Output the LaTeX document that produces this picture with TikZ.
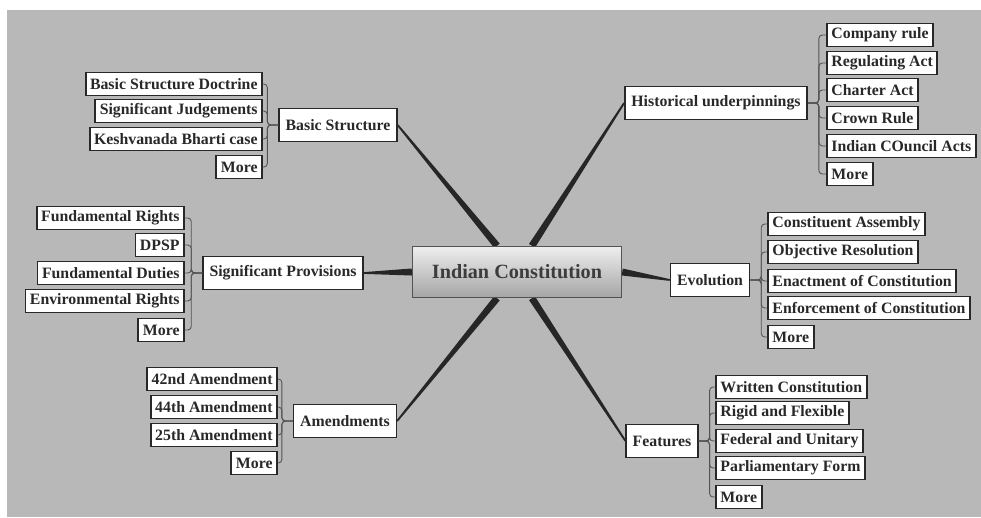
\documentclass[tikz,border=0pt]{standalone}
\usepackage{fontspec}
\setmainfont{Liberation Serif}
\usepackage{xcolor}
\usepackage{tikz}
\usetikzlibrary{positioning, calc}
\definecolor{MapGray}{RGB}{184,184,184}
\definecolor{HubTop}{RGB}{238,238,238}
\definecolor{HubBottom}{RGB}{165,165,165}
\definecolor{InkGray}{RGB}{40,40,40}
\pgfdeclarelayer{paper}
\pgfdeclarelayer{spokes}
\pgfsetlayers{paper,spokes,main}
\tikzset{
    % Central topic (shaded box)
    hubbox/.style={rectangle, draw=InkGray!80, line width=0.8pt,
        top color=HubTop, bottom color=HubBottom,
        minimum width=41.8mm, minimum height=10.2mm,
        font=\fontsize{11.5}{13}\selectfont\bfseries, text=InkGray!90},
    % Main branch (white box)
    branchbox/.style={rectangle, draw=InkGray, fill=white, line width=0.9pt,
        minimum height=6.6mm, inner xsep=1.3mm,
        font=\fontsize{9}{10}\selectfont\bfseries, text=InkGray},
    % Leaf topic (small box, heavy border)
    leafbox/.style={rectangle, draw=InkGray, fill=white, line width=1.1pt,
        minimum height=4.6mm, inner xsep=0.9mm, inner ysep=0.4mm,
        font=\fontsize{9}{10}\selectfont\bfseries, text=InkGray},
    leftleaf/.style={leafbox, anchor=east},
    rightleaf/.style={leafbox, anchor=west},
    % Tapered spoke out of the hub
    spoke/.style={fill=black!85},
    % Brace line from a branch to its leaves
    twig/.style={draw=InkGray!80, line width=0.5pt, rounded corners=2pt},
}
% tapered spoke: wide at #1, thin at #2
\newcommand\hubspoke[2]{%
    \fill[spoke] ($(#1)!2pt!90:(#2)$) -- ($(#2)!0.5pt!-90:(#1)$)
        -- ($(#2)!0.5pt!90:(#1)$) -- ($(#1)!2pt!-90:(#2)$) -- cycle;}

\begin{document}
\begin{tikzpicture}[x=0.2mm, y=-0.2mm]
    \useasboundingbox (0,0) rectangle (981,517);
    \begin{pgfonlayer}{paper}
        \fill[MapGray] (7,10) rectangle (981,517);
    \end{pgfonlayer}

    % hub and branches
    \node[hubbox] (hub) at (517,272) {Indian Constitution};
    \node[branchbox] (bs) at (338,125) {Basic Structure};
    \node[branchbox] (hu) at (716,103) {Historical underpinnings};
    \node[branchbox] (sp) at (283,273) {Significant Provisions};
    \node[branchbox] (ev) at (710,280) {Evolution};
    \node[branchbox] (am) at (345,421) {Amendments};
    \node[branchbox] (fe) at (662,441) {Features};

    \coordinate (hubNW) at ($(hub.north)+(-20,0)$);
    \coordinate (hubNE) at ($(hub.north)+(15,0)$);
    \coordinate (hubSW) at ($(hub.south)+(-20,0)$);
    \coordinate (hubSE) at ($(hub.south)+(15,0)$);

    \begin{pgfonlayer}{spokes}
        \hubspoke{hubNW}{bs.east}
        \hubspoke{hubNE}{hu.west}
        \hubspoke{hub.west}{sp.east}
        \hubspoke{hub.east}{ev.west}
        \hubspoke{hubSW}{am.east}
        \hubspoke{hubSE}{fe.west}
    \end{pgfonlayer}

    % Basic Structure
    \node[leftleaf] (bs1) at (263,84) {Basic Structure Doctrine};
    \node[leftleaf] (bs2) at (263,111) {Significant Judgements};
    \node[leftleaf] (bs3) at (263,139) {Keshvanada Bharti case};
    \node[leftleaf] (bs4) at (263,167) {More};
    \foreach \leaf in {bs1,bs2,bs3,bs4}
        \draw[twig] (bs.west) -- ++(-11,0) |- (\leaf.east);

    % Historical underpinnings
    \node[rightleaf] (hu1) at (826,35) {Company rule};
    \node[rightleaf] (hu2) at (826,63) {Regulating Act};
    \node[rightleaf] (hu3) at (826,90) {Charter Act};
    \node[rightleaf] (hu4) at (826,118) {Crown Rule};
    \node[rightleaf] (hu5) at (826,146) {Indian COuncil Acts};
    \node[rightleaf] (hu6) at (826,174) {More};
    \foreach \leaf in {hu1,hu2,hu3,hu4,hu5,hu6}
        \draw[twig] (hu.east) -- ++(11,0) |- (\leaf.west);

    % Significant Provisions
    \node[leftleaf] (sp1) at (185,218) {Fundamental Rights};
    \node[leftleaf] (sp2) at (185,245) {DPSP};
    \node[leftleaf] (sp3) at (185,273) {Fundamental Duties};
    \node[leftleaf] (sp4) at (185,301) {Environmental Rights};
    \node[leftleaf] (sp5) at (185,330) {More};
    \foreach \leaf in {sp1,sp2,sp3,sp4,sp5}
        \draw[twig] (sp.west) -- ++(-11,0) |- (\leaf.east);

    % Evolution
    \node[rightleaf] (ev1) at (767,224) {Constituent Assembly};
    \node[rightleaf] (ev2) at (767,252) {Objective Resolution};
    \node[rightleaf] (ev3) at (767,281) {Enactment of Constitution};
    \node[rightleaf] (ev4) at (767,308) {Enforcement of Constitution};
    \node[rightleaf] (ev5) at (767,337) {More};
    \foreach \leaf in {ev1,ev2,ev3,ev4,ev5}
        \draw[twig] (ev.east) -- ++(11,0) |- (\leaf.west);

    % Amendments
    \node[leftleaf] (am1) at (278,379) {42nd Amendment};
    \node[leftleaf] (am2) at (278,407) {44th Amendment};
    \node[leftleaf] (am3) at (278,435) {25th Amendment};
    \node[leftleaf] (am4) at (278,463) {More};
    \foreach \leaf in {am1,am2,am3,am4}
        \draw[twig] (am.west) -- ++(-11,0) |- (\leaf.east);

    % Features
    \node[rightleaf] (fe1) at (715,387) {Written Constitution};
    \node[rightleaf] (fe2) at (715,413) {Rigid and Flexible};
    \node[rightleaf] (fe3) at (715,441) {Federal and Unitary};
    \node[rightleaf] (fe4) at (715,468) {Parliamentary Form};
    \node[rightleaf] (fe5) at (715,497) {More};
    \foreach \leaf in {fe1,fe2,fe3,fe4,fe5}
        \draw[twig] (fe.east) -- ++(11,0) |- (\leaf.west);
\end{tikzpicture}
\end{document}
